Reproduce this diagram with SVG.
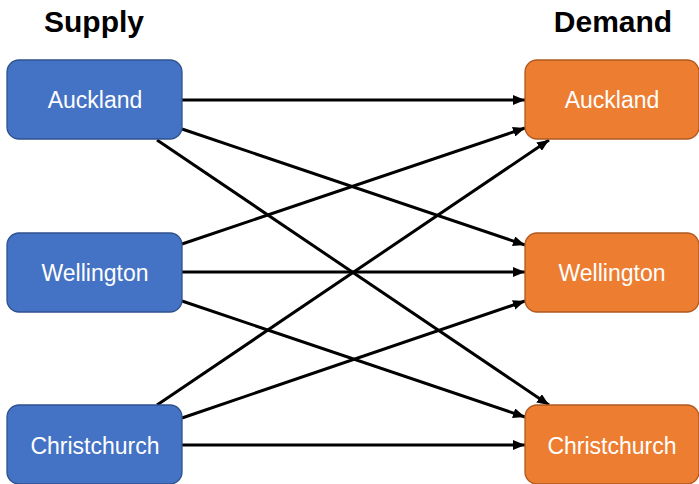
<svg xmlns="http://www.w3.org/2000/svg" width="699" height="484" viewBox="0 0 699 484">
<defs>
<style>
.title{font-family:"Liberation Sans",Arial,sans-serif;font-weight:bold;font-size:30px;fill:#000;text-anchor:middle}
.lbl{font-family:"Liberation Sans",Arial,sans-serif;font-size:23px;fill:#fff;text-anchor:middle}
.sup{fill:#4472C4;stroke:#2F528F;stroke-width:1.3}
.dem{fill:#ED7D31;stroke:#AE5A21;stroke-width:1.3}
.c line{stroke:#000;stroke-width:3;marker-end:url(#ah)}
</style>
<marker id="ah" markerUnits="userSpaceOnUse" markerWidth="12" markerHeight="10" viewBox="0 0 12 10" refX="12" refY="5" orient="auto">
<path d="M0,0 L12,5 L0,10 z" fill="#000"/>
</marker>
</defs>
<text class="title" x="94" y="32">Supply</text>
<text class="title" x="613" y="32">Demand</text>
<g class="c" id="connectors">
<line x1="182" y1="100" x2="525" y2="100"/>
<line x1="182" y1="129" x2="525" y2="245"/>
<line x1="157" y1="140" x2="549" y2="405"/>
<line x1="182" y1="244" x2="525" y2="128"/>
<line x1="182" y1="272" x2="525" y2="272"/>
<line x1="182" y1="301" x2="525" y2="417"/>
<line x1="157" y1="405" x2="549" y2="140"/>
<line x1="182" y1="418" x2="525" y2="301"/>
<line x1="182" y1="445" x2="525" y2="445"/>
</g>
<g id="supply-auckland"><rect class="sup" x="7" y="60" width="175" height="79" rx="12"/><text class="lbl" x="95" y="108">Auckland</text></g>
<g id="supply-wellington"><rect class="sup" x="7" y="233" width="175" height="79" rx="12"/><text class="lbl" x="95" y="281">Wellington</text></g>
<g id="supply-christchurch"><rect class="sup" x="7" y="405" width="175" height="79" rx="12"/><text class="lbl" x="95" y="454">Christchurch</text></g>
<g id="demand-auckland"><rect class="dem" x="525" y="60" width="174" height="79" rx="12"/><text class="lbl" x="612" y="108">Auckland</text></g>
<g id="demand-wellington"><rect class="dem" x="525" y="233" width="174" height="79" rx="12"/><text class="lbl" x="612" y="281">Wellington</text></g>
<g id="demand-christchurch"><rect class="dem" x="525" y="405" width="174" height="79" rx="12"/><text class="lbl" x="612" y="454">Christchurch</text></g>
</svg>
